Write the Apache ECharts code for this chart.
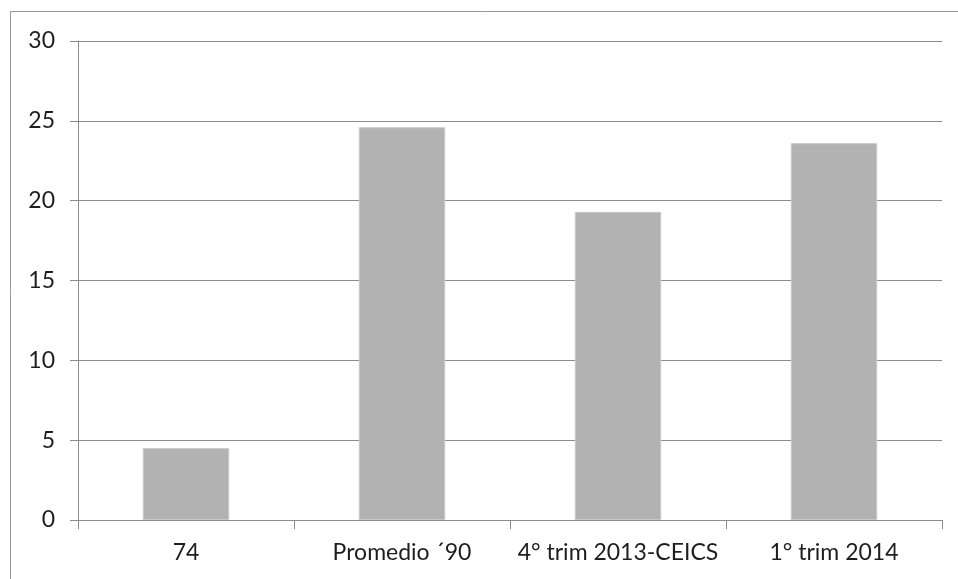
<!DOCTYPE html>
<html>
<head>
<meta charset="utf-8">
<script src="https://cdn.jsdelivr.net/npm/echarts@6/dist/echarts.min.js"></script>
<style>
  html, body { margin: 0; padding: 0; background: #fff; }
  #chart { width: 958px; height: 579px; }
</style>
</head>
<body>
<div id="chart"></div>
<script>
// Categories and values
const categories = ['74', 'Promedio \u00B490', '4\u00B0 trim 2013-CEICS', '1\u00B0 trim 2014'];
const values = [4.5, 24.6, 19.3, 23.6];
const yMin = 0, yMax = 30, yStep = 5;

const axisGray = '#8c8c8c';
const textColor = '#1e1e1e';
const fontFamily = 'Lato, "Open Sans", sans-serif';

const chart = echarts.init(document.getElementById('chart'), null, { renderer: 'canvas' });
chart.setOption({
  animation: false,
  backgroundColor: '#ffffff',
  graphic: [{
    type: 'rect',
    shape: { x: 10.5, y: 11.5, width: 1000, height: 600 },
    style: { fill: 'none', stroke: '#9a9a9a', lineWidth: 1 },
    silent: true,
    z: -1
  }],
  grid: { left: 78, right: 16, top: 41, bottom: 59, containLabel: false },
  xAxis: {
    type: 'category',
    data: categories,
    axisLine: { lineStyle: { color: axisGray, width: 1 } },
    axisTick: { show: true, length: 9, alignWithLabel: false, lineStyle: { color: axisGray } },
    axisLabel: { color: textColor, fontSize: 23, fontFamily: fontFamily, margin: 21, interval: 0 },
    splitLine: { show: false }
  },
  yAxis: {
    type: 'value',
    min: yMin,
    max: yMax,
    interval: yStep,
    axisLine: { show: true, lineStyle: { color: axisGray, width: 1 } },
    axisTick: { show: true, length: 8, lineStyle: { color: axisGray } },
    axisLabel: { color: textColor, fontSize: 23, fontFamily: fontFamily, margin: 23 },
    splitLine: { show: true, lineStyle: { color: axisGray, width: 1 } }
  },
  series: [{
    type: 'bar',
    data: values,
    barWidth: '40%',
    itemStyle: { color: '#b2b2b2', borderColor: '#c8c8c8', borderWidth: 1 }
  }]
});
</script>
</body>
</html>
